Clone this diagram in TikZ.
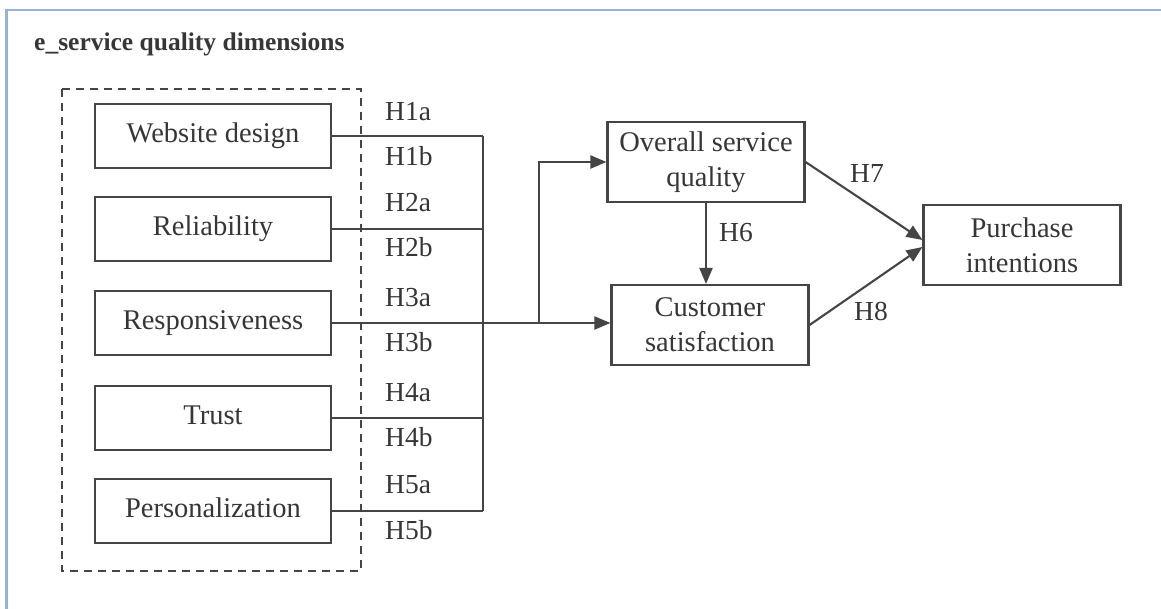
\documentclass[tikz,border=0pt]{standalone}
\usepackage{fontspec}
\setmainfont{Liberation Serif}
\usetikzlibrary{arrows.meta,calc}
\definecolor{inkgray}{HTML}{363636}
\definecolor{linegray}{HTML}{454545}
\definecolor{frameblue}{HTML}{95B3D7}
\tikzset{
  dimbox/.style={draw=linegray, line width=2.1pt, minimum width=236pt, minimum height=64pt,
    inner sep=0pt, text=inkgray, font=\fontsize{28.5}{34}\selectfont},
  constbox/.style={draw=linegray, line width=2.1pt, minimum width=197pt, minimum height=80pt,
    inner sep=0pt, align=center, text=inkgray, font=\fontsize{28.5}{35}\selectfont},
  hlabel/.style={text=inkgray, font=\fontsize{27.5}{30}\selectfont, inner sep=0pt},
  wire/.style={draw=linegray, line width=2.1pt},
  arrowwire/.style={wire, -{Triangle[length=16pt,width=13pt]}},
}
\begin{document}
\begin{tikzpicture}[x=1pt,y=-1pt]
  % canvas and frame
  \fill[white] (0,0) rectangle (1161,609);
  \useasboundingbox (0,0) rectangle (1161,609);
  \draw[frameblue, line width=2.5pt] (6.5,609) -- (6.5,10) -- (1161,10);

  % title
  \node[anchor=west, text=inkgray, font=\bfseries\fontsize{25.5}{28}\selectfont, inner sep=0pt]
    (title) at (34,44) {e\_service quality dimensions};

  % dashed group of dimensions
  \draw[linegray, line width=2.1pt, dash pattern=on 8pt off 6pt] (62,89) rectangle (361,571);

  % dimension boxes
  \node[dimbox] (wd) at (213,136) {\raisebox{6pt}{Website design}};
  \node[dimbox] (rl) at (213,229) {\raisebox{6pt}{Reliability}};
  \node[dimbox] (rs) at (213,323) {\raisebox{6pt}{Responsiveness}};
  \node[dimbox] (tr) at (213,418) {\raisebox{6pt}{Trust}};
  \node[dimbox] (ps) at (213,511) {\raisebox{6pt}{Personalization}};

  % construct boxes
  \node[constbox] (osq) at (706,162) {Overall service\\quality};
  \node[constbox] (cs)  at (710,325) {Customer\\satisfaction};
  \node[constbox] (pi)  at (1022,245) {Purchase\\intentions};

  % collecting bus
  \coordinate (bustop) at (483,136);
  \coordinate (busbot) at (483,511);
  \coordinate (split)  at (539,323);
  \draw[wire] (wd.east) -- (wd.east -| bustop);
  \draw[wire] (rl.east) -- (rl.east -| bustop);
  \draw[wire] (tr.east) -- (tr.east -| bustop);
  \draw[wire] (ps.east) -- (ps.east -| bustop);
  \draw[wire] (bustop) -- (busbot);
  \draw[arrowwire] (rs.east) -- (rs.east -| cs.west);
  \draw[arrowwire] (split) |- (osq.west);

  % structural paths
  \draw[arrowwire] (osq.south) -- (osq.south |- cs.north);
  \draw[arrowwire] (osq.east) -- ([yshift=5pt]pi.west);
  \draw[arrowwire] (cs.east) -- ([yshift=-2pt]pi.west);

  % hypothesis labels
  \node[hlabel, anchor=west] (h1a) at (385,112) {H1a};
  \node[hlabel, anchor=west] (h1b) at (385,156) {H1b};
  \node[hlabel, anchor=west] (h2a) at (385,203) {H2a};
  \node[hlabel, anchor=west] (h2b) at (385,247) {H2b};
  \node[hlabel, anchor=west] (h3a) at (385,298) {H3a};
  \node[hlabel, anchor=west] (h3b) at (385,342) {H3b};
  \node[hlabel, anchor=west] (h4a) at (385,393) {H4a};
  \node[hlabel, anchor=west] (h4b) at (385,437) {H4b};
  \node[hlabel, anchor=west] (h5a) at (385,485) {H5a};
  \node[hlabel, anchor=west] (h5b) at (385,530) {H5b};
  \node[hlabel] (h6) at (736,233) {H6};
  \node[hlabel] (h7) at (867,173) {H7};
  \node[hlabel] (h8) at (871,311) {H8};
\end{tikzpicture}
\end{document}
